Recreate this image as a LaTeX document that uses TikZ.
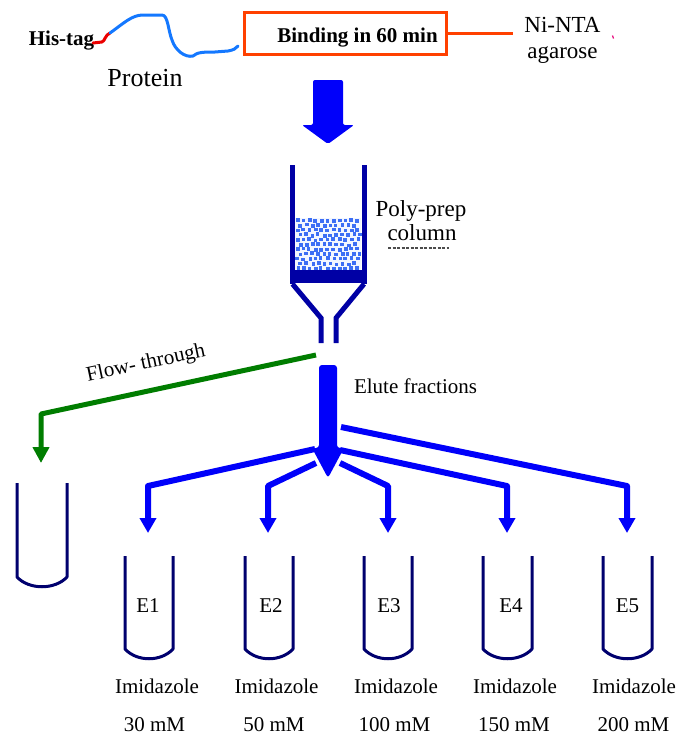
\documentclass[tikz,border=0pt]{standalone}
\usepackage{fontspec}
\setmainfont{Liberation Serif}
\usetikzlibrary{arrows.meta}

\definecolor{tagred}{RGB}{235,0,0}
\definecolor{protblue}{RGB}{20,120,255}
\definecolor{boxorange}{RGB}{255,64,0}
\definecolor{flowblue}{RGB}{0,0,250}
\definecolor{colnavy}{RGB}{0,0,165}
\definecolor{tubenavy}{RGB}{0,0,110}
\definecolor{beadblue}{RGB}{60,110,245}
\definecolor{bedtint}{RGB}{242,246,255}
\definecolor{flowgreen}{RGB}{0,125,0}
\definecolor{tickpink}{RGB}{230,0,120}

% one collection tube: left x, right x, top y, y where the round bottom starts
\newcommand\tubeshape[4]{%
  \draw[tubewall] (#1,#3) -- (#1,#4) .. controls (#1+12,#4+13) and (#2-12,#4+13) .. (#2,#4) -- (#2,#3);}

\tikzset{
  lbl/.style={font=\fontsize{21}{24}\selectfont, inner sep=0pt, outer sep=0pt, anchor=base},
  biglbl/.style={lbl, font=\fontsize{23}{26}\selectfont},
  tubewall/.style={draw=tubenavy, line width=3pt, line join=round},
  colwall/.style={draw=colnavy, line width=5pt},
  branch/.style={draw=flowblue, line width=6pt, line join=round,
    -{Triangle[width=16pt,length=15pt]}},
  flowline/.style={draw=flowgreen, line width=5pt, line join=round,
    -{Triangle[width=16pt,length=16pt]}},
}

\begin{document}
\begin{tikzpicture}[x=1pt,y=-1pt]
\useasboundingbox (0,0) rectangle (680,736);

% ---------- protein with its His-tag ----------
\node[lbl, font=\fontsize{21}{24}\selectfont\bfseries] (histag) at (61.5,45) {His-tag};
\node[lbl, font=\fontsize{26}{30}\selectfont] (protein) at (145,86) {Protein};
\coordinate (tagend) at (110,33);
\draw[tagred, line width=3pt, line cap=round, line join=round]
  (93,43) -- (102,42) .. controls (105,41) and (105,35) .. (tagend);
\draw[protblue, line width=3pt, line cap=round, line join=round]
  (tagend) .. controls (124,23) and (132,15) .. (143,15) -- (162,15)
  .. controls (168,15) and (168,30) .. (172,40)
  .. controls (175,50) and (185,58) .. (193,56)
  .. controls (197,52) and (205,52) .. (215,52) -- (228,51)
  .. controls (233,50) and (236,49) .. (238,46);

% ---------- binding step ----------
\node[draw=boxorange, line width=3pt, minimum width=202pt, minimum height=42pt,
      inner sep=0pt, outer sep=0pt] (bind) at (345.5,33) {};
\node[lbl, font=\fontsize{21}{24}\selectfont\bfseries] (bindtxt) at (357.5,42) {Binding in 60 min};
\coordinate (resinlink) at (513,33);
\draw[boxorange, line width=3pt] (bind.east) -- (resinlink);
\node[biglbl] (ninta) at (562.5,32) {Ni-NTA};
\node[biglbl] (agarose) at (562.5,58) {agarose};
\draw[tickpink, line width=1.2pt] (612.5,35.5) -- (613.5,38.5);

% ---------- loading arrow ----------
\fill[flowblue, rounded corners=2pt]
  (313,125) -- (313,80) -- (343,80) -- (343,125) -- (354,125) -- (328,144) -- (302,125) -- cycle;

% ---------- Poly-prep column ----------
\fill[bedtint] (295,218) rectangle (361,270);
\pgfmathsetseed{42}
\foreach \r in {0,...,10}{
  \foreach \c in {0,...,10}{
    \pgfmathsetmacro\xx{297.5+\c*6+mod(\r,2)*3+rand*0.9}
    \pgfmathsetmacro\yy{220.5+\r*4.8+rand*0.9}
    \pgfmathparse{\xx<360 ? 1 : 0}
    \ifnum\pgfmathresult=1
      \fill[beadblue] (\xx-1.8,\yy-1.8) rectangle (\xx+1.8,\yy+1.8);
    \fi
  }
}
\draw[colwall] (292.5,165) -- (292.5,284);
\draw[colwall] (364,165) -- (364,284);
\fill[colnavy] (290,270) rectangle (366.5,283);
\draw[colwall, line join=miter] (292.5,284) -- (321,318) -- (321,343);
\draw[colwall, line join=miter] (364,284) -- (336,318) -- (336,343);
\node[biglbl] (polyprep) at (421,216) {Poly-prep};
\node[biglbl] (column) at (422,240) {column};
\draw[black!70, line width=1.5pt, dash pattern=on 3pt off 1.5pt] (388,248) -- (449,248);

% ---------- flow-through ----------
\coordinate (outlet) at (316,355);
\coordinate (ftbend) at (41,414);
\coordinate (fttop) at (41,463);
\draw[flowline] (outlet) -- (ftbend) -- (fttop);
\node[lbl, anchor=center, rotate=12] (ftlbl) at (146,364) {Flow- through};
\tubeshape{17}{67}{483}{577}

% ---------- elution ----------
\fill[flowblue, rounded corners=3pt]
  (319,448) -- (319,365) -- (337,365) -- (337,448) -- (344,448) -- (328,478) -- (312,448) -- cycle;
\node[lbl, anchor=base west] (elute) at (354,393) {Elute fractions};

\coordinate (s1) at (315,449);
\coordinate (s2) at (316,463);
\coordinate (s3) at (340,463);
\coordinate (s4) at (340,450);
\coordinate (s5) at (341,427);
\foreach \k/\cx in {1/148, 2/268, 3/388, 4/507, 5/627}{
  \coordinate (b\k) at (\cx,486);
  \coordinate (t\k) at (\cx,533);
}
\foreach \k in {1,...,5}{
  \draw[branch] (s\k) -- (b\k) -- (t\k);
}

\tubeshape{125}{173}{556}{649}
\tubeshape{245}{293}{556}{649}
\tubeshape{364}{412}{556}{649}
\tubeshape{483}{532}{556}{649}
\tubeshape{603}{652}{556}{649}

\node[lbl] (e1) at (148,612) {E1};
\node[lbl] (e2) at (271,612) {E2};
\node[lbl] (e3) at (389,612) {E3};
\node[lbl] (e4) at (511,612) {E4};
\node[lbl] (e5) at (627.5,612) {E5};

\node[lbl] (im1) at (157,693) {Imidazole};
\node[lbl] (im2) at (276.5,693) {Imidazole};
\node[lbl] (im3) at (396,693) {Imidazole};
\node[lbl] (im4) at (515,693) {Imidazole};
\node[lbl] (im5) at (634,693) {Imidazole};

\node[lbl] (c1) at (154.5,731) {30 mM};
\node[lbl] (c2) at (274,731) {50 mM};
\node[lbl] (c3) at (394.5,731) {100 mM};
\node[lbl] (c4) at (514,731) {150 mM};
\node[lbl] (c5) at (633.5,731) {200 mM};
\end{tikzpicture}
\end{document}
